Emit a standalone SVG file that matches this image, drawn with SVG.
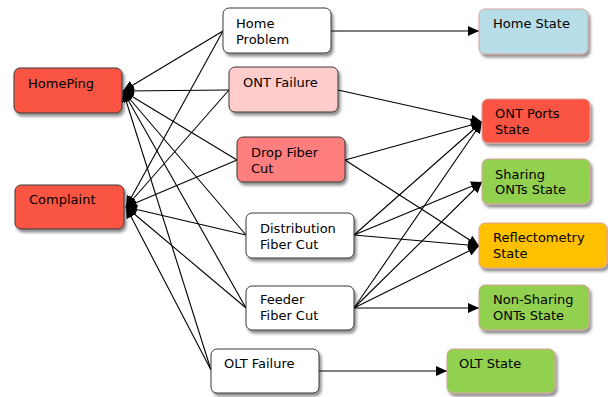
<svg xmlns="http://www.w3.org/2000/svg" width="608" height="397" viewBox="0 0 608 397">
<defs>
<filter id="sh" x="-10%" y="-10%" width="130%" height="140%">
<feGaussianBlur in="SourceAlpha" stdDeviation="1.5"/>
<feOffset dx="2" dy="3" result="o"/>
<feComponentTransfer><feFuncA type="linear" slope="0.45"/></feComponentTransfer>
<feMerge><feMergeNode/><feMergeNode in="SourceGraphic"/></feMerge>
</filter>
<marker id="ar" markerUnits="userSpaceOnUse" markerWidth="12" markerHeight="10" refX="11" refY="5" orient="auto">
<path d="M0,0 L11,5 L0,10 z" fill="#000"/>
</marker>
</defs>
<style>
.box{stroke-width:1;filter:url(#sh)}
.dk{stroke:#3a3a3a}
.pk{stroke:#d9a09c}
.t{font-family:"DejaVu Sans","Noto Sans",sans-serif;font-size:13px;fill:#000}
.c line{stroke:#000;stroke-width:1.1;marker-end:url(#ar)}
</style>
<rect width="608" height="397" fill="#fff"/>
<g class="c" id="connectors">
<line x1="223" y1="31" x2="123" y2="91"/>
<line x1="229" y1="90" x2="123" y2="91"/>
<line x1="237" y1="160" x2="123" y2="91"/>
<line x1="246" y1="235" x2="123" y2="91"/>
<line x1="246" y1="308" x2="123" y2="91"/>
<line x1="211" y1="370" x2="123" y2="91"/>
<line x1="223" y1="31" x2="126" y2="207"/>
<line x1="229" y1="90" x2="126" y2="207"/>
<line x1="237" y1="160" x2="126" y2="207"/>
<line x1="246" y1="235" x2="126" y2="207"/>
<line x1="246" y1="308" x2="126" y2="207"/>
<line x1="211" y1="370" x2="126" y2="207"/>
<line x1="331" y1="31" x2="479" y2="31"/>
<line x1="338" y1="90" x2="482" y2="122"/>
<line x1="345" y1="160" x2="482" y2="122"/>
<line x1="345" y1="160" x2="479" y2="246"/>
<line x1="354" y1="235" x2="482" y2="122"/>
<line x1="354" y1="235" x2="482" y2="182"/>
<line x1="354" y1="235" x2="479" y2="246"/>
<line x1="354" y1="308" x2="482" y2="122"/>
<line x1="354" y1="308" x2="482" y2="182"/>
<line x1="354" y1="308" x2="479" y2="246"/>
<line x1="354" y1="308" x2="479" y2="308"/>
<line x1="319" y1="371" x2="447" y2="371"/>
</g>
<g id="homeping"><rect class="box dk" x="14" y="68" width="108" height="45" rx="6" fill="#fa5543"/><text class="t" x="28" y="88">HomePing</text></g>
<g id="complaint"><rect class="box dk" x="15" y="185" width="109" height="44" rx="6" fill="#fa5543"/><text class="t" x="29" y="204">Complaint</text></g>
<g id="homeproblem"><rect class="box dk" x="223" y="8" width="108" height="45" rx="6" fill="#fff"/><text class="t" x="236" y="28">Home</text><text class="t" x="236" y="44">Problem</text></g>
<g id="ontfailure"><rect class="box dk" x="229" y="67" width="109" height="45" rx="6" fill="#ffcccc"/><text class="t" x="243" y="87">ONT Failure</text></g>
<g id="dropfiber"><rect class="box dk" x="237" y="137" width="108" height="45" rx="6" fill="#ff7f7f"/><text class="t" x="251" y="157">Drop Fiber</text><text class="t" x="251" y="172.5">Cut</text></g>
<g id="distribution"><rect class="box dk" x="246" y="213" width="108" height="45" rx="6" fill="#fff"/><text class="t" x="260" y="233">Distribution</text><text class="t" x="260" y="248.5">Fiber Cut</text></g>
<g id="feeder"><rect class="box dk" x="246" y="286" width="108" height="44" rx="6" fill="#fff"/><text class="t" x="260" y="304">Feeder</text><text class="t" x="260" y="319.5">Fiber Cut</text></g>
<g id="oltfailure"><rect class="box dk" x="211" y="349" width="108" height="44" rx="6" fill="#fff"/><text class="t" x="224" y="368">OLT Failure</text></g>
<g id="homestate"><rect class="box pk" x="479" y="9" width="109" height="45" rx="6" fill="#b7dde8"/><text class="t" x="493" y="28">Home State</text></g>
<g id="ontports"><rect class="box pk" x="482" y="99" width="108" height="44" rx="6" fill="#fa5543"/><text class="t" x="495" y="118">ONT Ports</text><text class="t" x="495" y="133.5">State</text></g>
<g id="sharing"><rect class="box pk" x="482" y="159" width="108" height="45" rx="6" fill="#92d050"/><text class="t" x="495" y="178.5">Sharing</text><text class="t" x="495" y="194">ONTs State</text></g>
<g id="reflecto"><rect class="box pk" x="479" y="223" width="128" height="45" rx="6" fill="#ffc000"/><text class="t" x="493" y="242">Reflectometry</text><text class="t" x="493" y="257.5">State</text></g>
<g id="nonsharing"><rect class="box pk" x="479" y="285" width="110" height="45" rx="6" fill="#92d050"/><text class="t" x="493" y="304">Non-Sharing</text><text class="t" x="493" y="319.5">ONTs State</text></g>
<g id="oltstate"><rect class="box pk" x="447" y="349" width="108" height="44" rx="6" fill="#92d050"/><text class="t" x="459" y="368">OLT State</text></g>
</svg>
